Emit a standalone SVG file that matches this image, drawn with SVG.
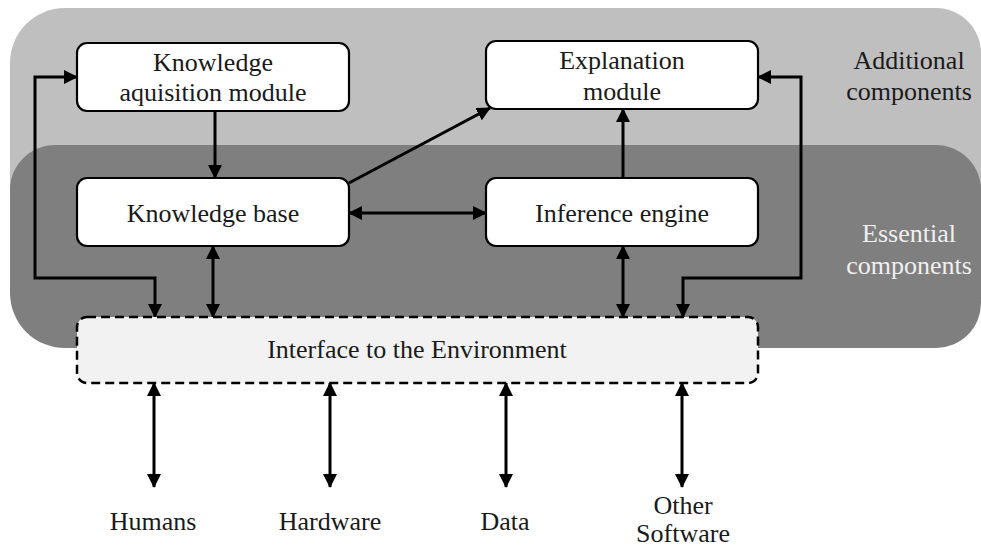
<svg xmlns="http://www.w3.org/2000/svg" width="981" height="548" viewBox="0 0 981 548" font-family="Liberation Serif, Times New Roman, serif">
<style>
.t{font-size:26px;fill:#1a1a1a;text-anchor:middle}
.w{fill:#f0f0f0}
.box{fill:#ffffff;stroke:#000;stroke-width:2.2}
.c{fill:none;stroke:#000;stroke-width:3}
</style>
<defs>
<marker id="ah" markerUnits="userSpaceOnUse" markerWidth="14" markerHeight="14" refX="13" refY="7" orient="auto-start-reverse" viewBox="0 0 14 14">
<path d="M0,0 L14,7 L0,14 z" fill="#000"/>
</marker>
</defs>
<g id="backgrounds">
<path id="additional-bg" d="M10,220 V63 A55,55 0 0 1 65,8 H936 A45,45 0 0 1 981,53 V220 Z" fill="#bfbfbf"/>
<path id="essential-bg" d="M10,293 V190 A45,45 0 0 1 55,145 H936 A45,45 0 0 1 981,190 V303 A45,45 0 0 1 936,348 H65 A55,55 0 0 1 10,293 Z" fill="#7f7f7f"/>
<text class="t" x="909" y="69">Additional</text>
<text class="t" x="909" y="100">components</text>
<text class="t w" x="909" y="242">Essential</text>
<text class="t w" x="909" y="274">components</text>
</g>
<g id="connectors">
<polyline class="c" points="155,317 155,278 35,278 35,77 77,77" marker-start="url(#ah)" marker-end="url(#ah)"/>
<polyline class="c" points="683,317 683,278 801,278 801,77 758,77" marker-start="url(#ah)" marker-end="url(#ah)"/>
<line class="c" x1="215" y1="111" x2="215" y2="178" marker-end="url(#ah)"/>
<line class="c" x1="213" y1="246" x2="213" y2="317" marker-start="url(#ah)" marker-end="url(#ah)"/>
<line class="c" x1="349" y1="213" x2="486" y2="213" marker-start="url(#ah)" marker-end="url(#ah)"/>
<line class="c" x1="349" y1="183" x2="490" y2="108" marker-end="url(#ah)"/>
<line class="c" x1="623" y1="178" x2="623" y2="109" marker-end="url(#ah)"/>
<line class="c" x1="623" y1="246" x2="623" y2="317" marker-start="url(#ah)" marker-end="url(#ah)"/>
<line class="c" x1="154" y1="383" x2="154" y2="487" marker-start="url(#ah)" marker-end="url(#ah)"/>
<line class="c" x1="330" y1="383" x2="330" y2="487" marker-start="url(#ah)" marker-end="url(#ah)"/>
<line class="c" x1="506" y1="383" x2="506" y2="487" marker-start="url(#ah)" marker-end="url(#ah)"/>
<line class="c" x1="682" y1="383" x2="682" y2="487" marker-start="url(#ah)" marker-end="url(#ah)"/>
</g>
<g id="knowledge-acquisition">
<rect class="box" x="77" y="43" width="272" height="68" rx="10"/>
<text class="t" x="213" y="71">Knowledge</text>
<text class="t" x="213" y="101">aquisition module</text>
</g>
<g id="explanation-module">
<rect class="box" x="486" y="41" width="272" height="68" rx="10"/>
<text class="t" x="622" y="69">Explanation</text>
<text class="t" x="622" y="100">module</text>
</g>
<g id="knowledge-base">
<rect class="box" x="77" y="178" width="272" height="68" rx="10"/>
<text class="t" x="213" y="222">Knowledge base</text>
</g>
<g id="inference-engine">
<rect class="box" x="486" y="178" width="272" height="68" rx="10"/>
<text class="t" x="622" y="222">Inference engine</text>
</g>
<g id="interface">
<rect x="77" y="317" width="681" height="66" rx="10" fill="#f2f2f2" stroke="#000" stroke-width="2.5" stroke-dasharray="9 5"/>
<text class="t" x="417" y="358">Interface to the Environment</text>
</g>
<g id="humans"><text class="t" x="153" y="530">Humans</text></g>
<g id="hardware"><text class="t" x="330" y="530">Hardware</text></g>
<g id="data"><text class="t" x="505" y="530">Data</text></g>
<g id="other-software">
<text class="t" x="683" y="514">Other</text>
<text class="t" x="683" y="542">Software</text>
</g>
</svg>
